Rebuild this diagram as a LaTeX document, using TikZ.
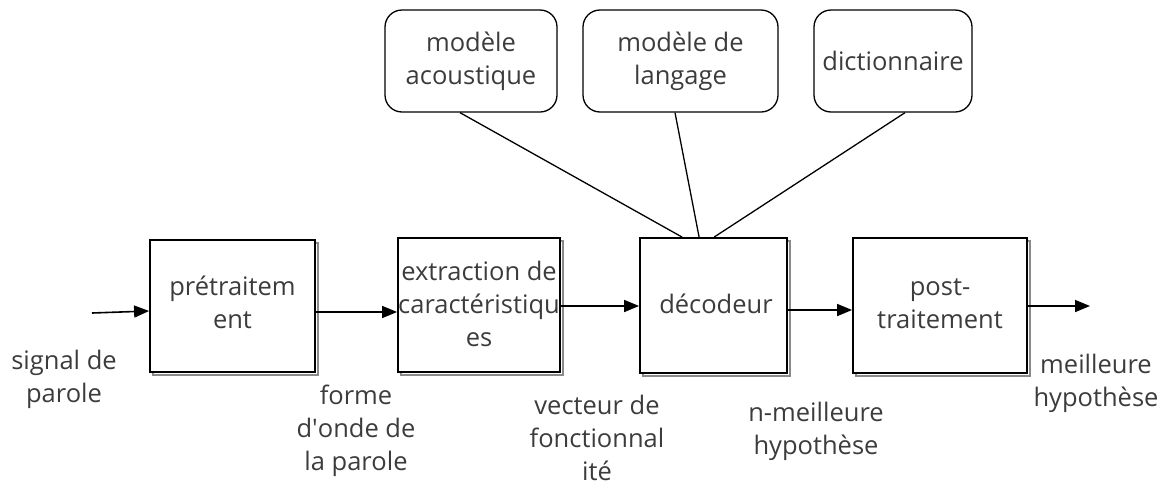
\documentclass[tikz,border=0pt]{standalone}
\usepackage{fontspec}
\setmainfont{Open Sans}
\usetikzlibrary{arrows.meta,shadows,calc}
\definecolor{txt}{HTML}{3C3C3C}
\definecolor{shade}{HTML}{8A8A8A}
\begin{document}
\begin{tikzpicture}[x=1pt,y=-1pt,
  font=\fontsize{25.5}{33}\selectfont,
  every node/.style={text=txt, inner sep=0pt, align=center},
  stage/.style={draw=black, line width=1.8pt, fill=white,
    general shadow={shadow xshift=3pt, shadow yshift=-3pt, draw=shade, line width=2.4pt}},
  source/.style={draw=black, line width=1.3pt, rounded corners=17pt},
  flow/.style={line width=1.6pt, -{Triangle[length=15pt,width=12pt]}},
  link/.style={line width=1.3pt},
  lbl/.style={}]
\useasboundingbox (0,0) rectangle (1168,488);

% processing stages
\node[stage, minimum width=165pt, minimum height=132pt] (pre) at (232.5,306) {};
\node at (232.5,302) {prétraitem\\ent};
\node[stage, minimum width=162pt, minimum height=134pt] (ext) at (479,305) {};
\node at (479,304) {extraction de\\caractéristiqu\\es};
\node[stage, minimum width=147pt, minimum height=135pt] (dec) at (713.5,305.5) {};
\node at (716,304) {décodeur};
\node[stage, minimum width=174pt, minimum height=135pt] (post) at (940,305.5) {};
\node at (940,304) {post-\\traitement};

% knowledge sources
\node[source, minimum width=172pt, minimum height=102pt] (ac) at (471,61) {modèle\\acoustique};
\node[source, minimum width=195pt, minimum height=102pt] (lg) at (680.5,61) {modèle de\\langage};
\node[source, minimum width=158pt, minimum height=102pt] (dic) at (893,61) {dictionnaire};

% signal chain
\coordinate (in) at (92,313);
\coordinate (out) at (1090,306);
\draw[flow] (in) -- (pre.west |- 0,311);
\draw[flow] (pre.east |- 0,312) -- (ext.west |- 0,312);
\draw[flow] (ext.east |- 0,306) -- (dec.west |- 0,306);
\draw[flow] (dec.east |- 0,310) -- (post.west |- 0,310);
\draw[flow] (post.east |- 0,306) -- (out);

% sources feeding the decoder
\draw[link] (ac.south -| 460,0) -- ($(dec.north west)+(43,0)$);
\draw[link] (lg.south -| 675,0) -- ($(dec.north west)+(60,0)$);
\draw[link] (dic.south -| 905,0) -- ($(dec.north west)+(75,0)$);

% signal names
\node[lbl] (l1) at (64,379) {signal de\\parole};
\node[lbl] (l2) at (356,431) {forme\\d\textquotesingle onde de\\la parole};
\node[lbl] (l3) at (597,438) {vecteur de\\fonctionnal\\ité};
\node[lbl] (l4) at (816,431) {n-meilleure\\hypothèse};
\node[lbl] (l5) at (1096,383) {meilleure\\hypothèse};
\end{tikzpicture}
\end{document}
